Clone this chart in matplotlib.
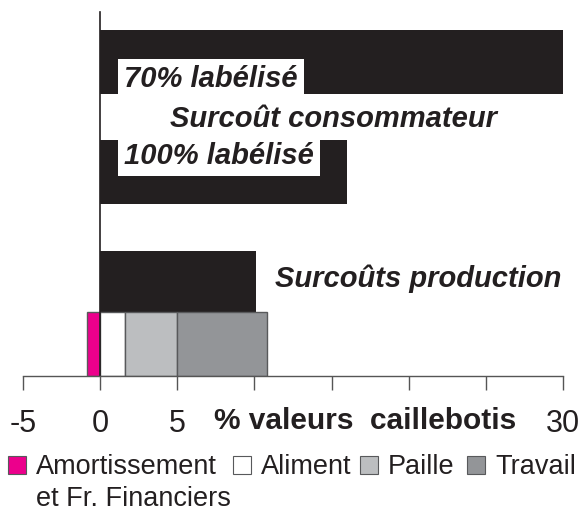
import matplotlib
matplotlib.use('Agg')
import matplotlib.pyplot as plt
from matplotlib.patches import Rectangle

plt.rcParams['font.family'] = ['Liberation Sans', 'DejaVu Sans']

# surcoûts (% valeur caillebotis)
conso_labels = ['70% labélisé', '100% labélisé']
conso_values = [30.0, 16.0]
production_total = 10.1
comp_names = ['Amortissement\net Fr. Financiers', 'Aliment', 'Paille', 'Travail']
comp_values = [-0.85, 1.6, 3.4, 5.8]
comp_colors = ['#ec008c', '#ffffff', '#bcbec0', '#939598']
xticks = [-5, 0, 5, 10, 15, 20, 25, 30]
xticklabels = ['-5', '0', '5', '', '', '', '', '30']

W, H = 580, 512
fig = plt.figure(figsize=(W / 100, H / 100), dpi=100)
ax = fig.add_axes([23 / W, 1 - 376 / H, 540 / W, 364 / H])
ax.set_xlim(-5, 30)
ax.set_ylim(376, 12)  # vertical axis in pixel rows, top down

# black bars: consommateur + production
ax.barh([62, 172], conso_values, height=64, left=0, color='#231f20')
ax.barh(281.5, production_total, height=61, left=0, color='#231f20')

# stacked components of production
left_pos = 0
for name, v, c in zip(comp_names, comp_values, comp_colors):
    if v < 0:
        ax.barh(344, v, height=64, left=0, color=c, edgecolor='#58595b', linewidth=1)
    else:
        ax.barh(344, v, height=64, left=left_pos, color=c, edgecolor='#58595b', linewidth=1)
        left_pos += v

txt = dict(fontsize=21, fontweight='bold', fontstyle='italic', color='#231f20')
for lab, y in zip(conso_labels, [79, 156]):
    ax.text(1.55, y, lab, va='center', ha='left',
            bbox=dict(boxstyle='square,pad=0.22', fc='white', ec='none'), **txt)
ax.text(15.1, 119, 'Surcoût consommateur', va='center', ha='center', **txt)
ax.text(20.6, 279, 'Surcoûts production', va='center', ha='center', **txt)

for s in ['top', 'right']:
    ax.spines[s].set_visible(False)
ax.spines['left'].set_position(('data', 0))
ax.spines['left'].set_color('#231f20')
ax.spines['left'].set_linewidth(1.2)
ax.spines['bottom'].set_color('#555555')
ax.spines['bottom'].set_linewidth(1)
ax.set_yticks([])
ax.set_xticks(xticks)
ax.set_xticklabels(xticklabels, fontsize=22, color='#231f20')
ax.tick_params(axis='x', direction='out', length=10, width=1, color='#555555', pad=14)

fig.text(365 / W, 1 - 421 / H, '% valeurs  caillebotis', ha='center', va='center',
         fontsize=21.5, fontweight='bold', color='#231f20')

# legend drawn by hand
leg_x = [8, 233, 360, 467]
for name, c, x in zip(comp_names, comp_colors, leg_x):
    fig.patches.append(Rectangle((x / W, 1 - 474 / H), 18 / W, 18 / H,
                                 transform=fig.transFigure, fc=c, ec='#58595b', lw=0.8))
    for i, line in enumerate(name.split('\n')):
        fig.text((x + 28) / W, 1 - (474 + 32 * i) / H, line, ha='left', va='baseline',
                 fontsize=19.5, color='#231f20')

fig.savefig('out.png', dpi=100)
